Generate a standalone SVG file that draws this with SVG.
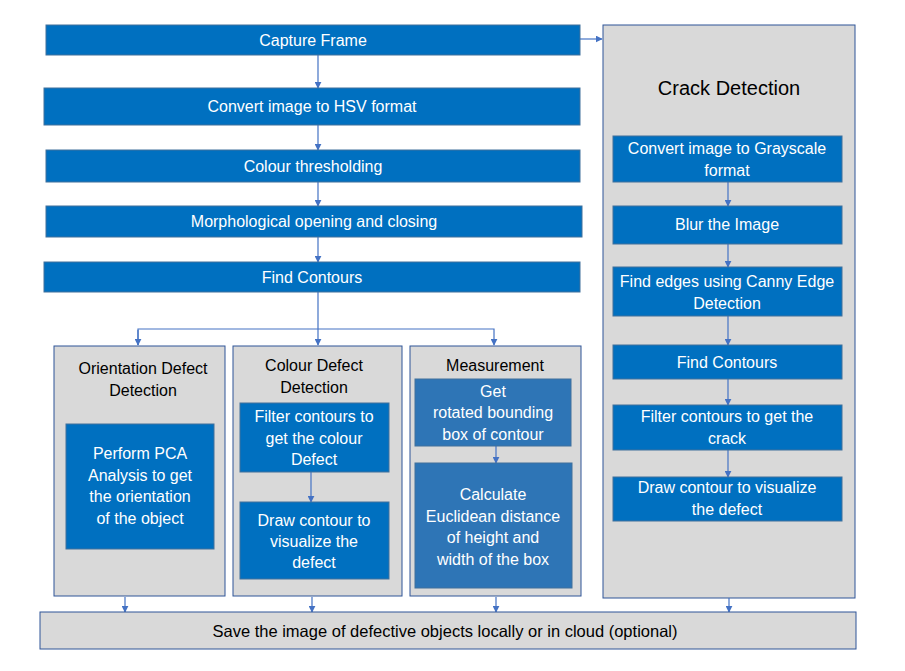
<svg xmlns="http://www.w3.org/2000/svg" width="905" height="671" viewBox="0 0 905 671">
<defs>
<marker id="ah" viewBox="0 0 10 10" refX="9" refY="5" markerWidth="7" markerHeight="7" markerUnits="userSpaceOnUse" orient="auto"><path d="M0,0 L10,5 L0,10 z" fill="#4472C4"/></marker>
<style>
.b{fill:#0070C0;stroke:#41719C;stroke-width:1}
.m{fill:#2E75B6;stroke:#41719C;stroke-width:1}
.g{fill:#D9D9D9;stroke:#2F5597;stroke-width:1}
.t{font-family:"Liberation Sans",Arial,sans-serif;font-size:16px;fill:#FFFFFF;text-anchor:middle;dominant-baseline:central}
.k{font-family:"Liberation Sans",Arial,sans-serif;font-size:16px;fill:#000000;text-anchor:middle;dominant-baseline:central}
.c{stroke:#4472C4;stroke-width:1.2;fill:none}
</style>
</defs>
<rect width="905" height="671" fill="#FFFFFF"/>
<g id="crack">
<rect class="g" x="603" y="25" width="252" height="573"/>
<text class="k" x="729" y="88" style="font-size:20px">Crack Detection</text>
</g>
<g id="orientation">
<rect class="g" x="54" y="346" width="171" height="250"/>
<text class="k" x="143" y="368">Orientation Defect</text>
<text class="k" x="143" y="390">Detection</text>
</g>
<g id="colour">
<rect class="g" x="233" y="346" width="169" height="250"/>
<text class="k" x="314" y="365">Colour Defect</text>
<text class="k" x="314" y="387">Detection</text>
</g>
<g id="measurement">
<rect class="g" x="410" y="346" width="171" height="250"/>
<text class="k" x="495" y="365">Measurement</text>
</g>
<g id="connectors">
<line class="c" x1="318" y1="55" x2="318" y2="88" marker-end="url(#ah)"/>
<line class="c" x1="318" y1="125" x2="318" y2="150" marker-end="url(#ah)"/>
<line class="c" x1="318" y1="182" x2="318" y2="206" marker-end="url(#ah)"/>
<line class="c" x1="318" y1="237" x2="318" y2="262" marker-end="url(#ah)"/>
<line class="c" x1="318" y1="292" x2="318" y2="345" marker-end="url(#ah)"/>
<polyline class="c" points="138,345 138,329 494,329 494,345" marker-end="url(#ah)"/>
<line class="c" x1="138" y1="330" x2="138" y2="345" marker-end="url(#ah)"/>
<line class="c" x1="580" y1="39" x2="602" y2="39" marker-end="url(#ah)"/>
<line class="c" x1="728" y1="182" x2="728" y2="206" marker-end="url(#ah)"/>
<line class="c" x1="728" y1="244" x2="728" y2="267" marker-end="url(#ah)"/>
<line class="c" x1="728" y1="316" x2="728" y2="345" marker-end="url(#ah)"/>
<line class="c" x1="728" y1="379" x2="728" y2="405" marker-end="url(#ah)"/>
<line class="c" x1="728" y1="450" x2="728" y2="477" marker-end="url(#ah)"/>
<line class="c" x1="311" y1="472" x2="311" y2="502" marker-end="url(#ah)"/>
<line class="c" x1="496" y1="446" x2="496" y2="463" marker-end="url(#ah)"/>
<line class="c" x1="125" y1="597" x2="125" y2="612" marker-end="url(#ah)"/>
<line class="c" x1="312" y1="597" x2="312" y2="612" marker-end="url(#ah)"/>
<line class="c" x1="496" y1="597" x2="496" y2="612" marker-end="url(#ah)"/>
<line class="c" x1="729" y1="598" x2="729" y2="612" marker-end="url(#ah)"/>
</g>
<g id="capture"><rect class="b" x="46" y="25" width="534" height="30"/><text class="t" x="313" y="40">Capture Frame</text></g>
<g id="hsv"><rect class="b" x="44" y="88" width="536" height="37"/><text class="t" x="312" y="106">Convert image to HSV format</text></g>
<g id="threshold"><rect class="b" x="46" y="150" width="534" height="32"/><text class="t" x="313" y="166">Colour thresholding</text></g>
<g id="morph"><rect class="b" x="46" y="206" width="536" height="31"/><text class="t" x="314" y="221">Morphological opening and closing</text></g>
<g id="contours"><rect class="b" x="44" y="262" width="536" height="30"/><text class="t" x="312" y="277">Find Contours</text></g>
<g id="pca"><rect class="b" x="66" y="424" width="148" height="125"/>
<text class="t" x="140" y="453">Perform PCA</text><text class="t" x="140" y="475">Analysis to get</text><text class="t" x="140" y="496">the orientation</text><text class="t" x="140" y="518">of the object</text></g>
<g id="filtercolour"><rect class="b" x="240" y="403" width="149" height="69"/>
<text class="t" x="314" y="416">Filter contours to</text><text class="t" x="314" y="438">get the colour</text><text class="t" x="314" y="459">Defect</text></g>
<g id="drawcolour"><rect class="b" x="240" y="502" width="149" height="77"/>
<text class="t" x="314" y="520">Draw contour to</text><text class="t" x="314" y="541">visualize the</text><text class="t" x="314" y="562">defect</text></g>
<g id="bbox"><rect class="m" x="415" y="379" width="156" height="67"/>
<text class="t" x="493" y="391">Get</text><text class="t" x="493" y="412">rotated bounding</text><text class="t" x="493" y="434">box of contour</text></g>
<g id="euclid"><rect class="m" x="415" y="463" width="157" height="125"/>
<text class="t" x="493" y="494">Calculate</text><text class="t" x="493" y="516">Euclidean distance</text><text class="t" x="493" y="537">of height and</text><text class="t" x="493" y="559">width of the box</text></g>
<g id="gray"><rect class="b" x="613" y="136" width="229" height="46"/>
<text class="t" x="727" y="148">Convert image to Grayscale</text><text class="t" x="727" y="170">format</text></g>
<g id="blur"><rect class="b" x="613" y="206" width="229" height="38"/><text class="t" x="727" y="224">Blur the Image</text></g>
<g id="canny"><rect class="b" x="613" y="267" width="229" height="49"/>
<text class="t" x="727" y="281">Find edges using Canny Edge</text><text class="t" x="727" y="303">Detection</text></g>
<g id="crackcontours"><rect class="b" x="613" y="345" width="229" height="34"/><text class="t" x="727" y="362">Find Contours</text></g>
<g id="filtercrack"><rect class="b" x="613" y="405" width="229" height="45"/>
<text class="t" x="727" y="416">Filter contours to get the</text><text class="t" x="727" y="438">crack</text></g>
<g id="drawcrack"><rect class="b" x="613" y="477" width="229" height="44"/>
<text class="t" x="727" y="487">Draw contour to visualize</text><text class="t" x="727" y="509">the defect</text></g>
<g id="save"><rect class="g" x="40" y="612" width="816" height="37"/>
<text class="k" x="445" y="631" style="font-size:16.5px">Save the image of defective objects locally or in cloud (optional)</text></g>
</svg>
